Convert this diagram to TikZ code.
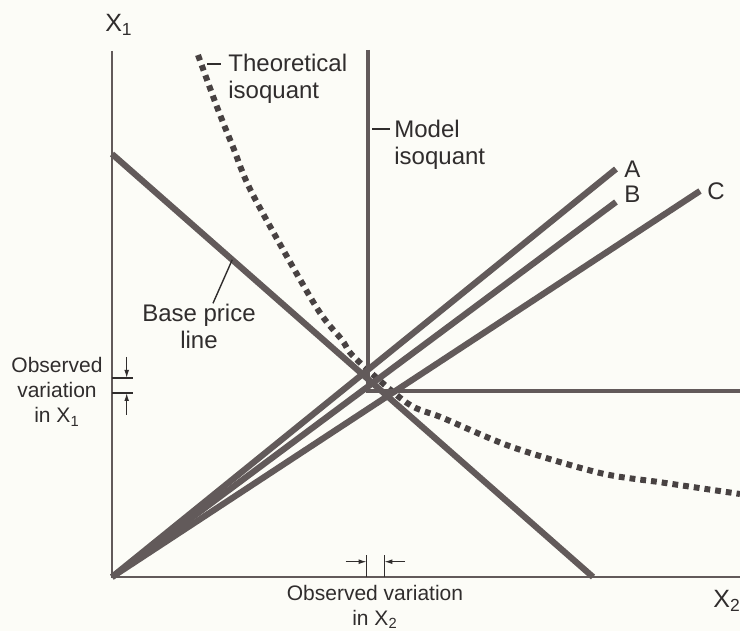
\documentclass[tikz,border=0pt]{standalone}
\usepackage{fontspec}
\setmainfont{Liberation Sans}
\usetikzlibrary{arrows.meta,positioning,calc}
\definecolor{inkgray}{RGB}{98,90,90}
\definecolor{dotgray}{RGB}{72,66,66}
\definecolor{txtgray}{RGB}{48,45,45}
\definecolor{paper}{RGB}{252,252,247}

\begin{document}
\begin{tikzpicture}[x=5pt,y=5pt]
  % Styles for lines and labels
  \tikzset{axisline/.style={line width=1.3pt, inkgray}}
  \tikzset{thickline/.style={line width=3.1pt, inkgray}}
  \tikzset{modelline/.style={line width=2pt, inkgray}}
  \tikzset{dotcurve/.style={line width=3pt, dotgray, dash pattern=on 2.9pt off 2.5pt}}
  \tikzset{leader/.style={line width=0.7pt, txtgray}}
  \tikzset{dimline/.style={line width=0.6pt, txtgray}}
  \tikzset{dimarrow/.style={dimline, -{Latex[length=4pt,width=2.4pt]}}}
  \tikzset{lbl/.style={txtgray, font=\fontsize{12}{13.5}\selectfont, inner sep=0pt}}
  \tikzset{smalllbl/.style={txtgray, font=\fontsize{10.5}{12.5}\selectfont, inner sep=0pt, align=center}}

  % paper
  \fill[paper] (-11.2,-5.4) rectangle (62.8,57.7);
  \useasboundingbox (-11.2,-5.4) rectangle (62.8,57.7);

  % Theoretical isoquant
  \draw[dotcurve] plot[smooth] coordinates {(8.6,52.2) (10.5,47.0) (12.1,43.0) (14.1,38.2) (20.3,27.2) (23.0,23.7) (24.3,21.9) (29.5,17.4) (33.1,15.9) (40,13.0) (48.8,10.4) (55,9.45) (62.8,8.3)};

  % Base price line
  \coordinate (bpTop) at (0,42.3);
  \coordinate (bpEnd) at (48.1,0);
  \draw[thickline] (bpTop) -- (bpEnd);

  % Model isoquant
  \coordinate (mTop) at (25.6,52.7);
  \coordinate (mCorner) at (25.6,18.6);
  \coordinate (mEnd) at (62.8,18.6);
  \draw[modelline] (mTop) -- (mCorner) -- (mEnd);

  % Axes
  \coordinate (O) at (0,0);
  \coordinate (yTop) at (0,52.6);
  \coordinate (xEnd) at (62.8,0);
  \draw[axisline] (yTop) -- (O) -- (xEnd);
  \node[lbl, font=\fontsize{12.5}{14}\selectfont] (xOneLbl) at (0.7,55.2) {X\textsubscript{1}};
  \node[lbl, font=\fontsize{12.5}{14}\selectfont, anchor=west] (xTwoLbl) at (60.1,-2.4) {X\textsubscript{2}};

  % Rays A, B, C
  \coordinate (aEnd) at (50.4,40.8);
  \coordinate (bEnd) at (50.4,37.5);
  \coordinate (cEnd) at (58.8,38.6);
  \draw[thickline] (O) -- (aEnd);
  \draw[thickline] (O) -- (bEnd);
  \draw[thickline] (O) -- (cEnd);
  \node[lbl, right=4pt of aEnd] (aLbl) {A};
  \node[lbl, right=4pt of bEnd, yshift=4pt] (bLbl) {B};
  \node[lbl, right=3.5pt of cEnd] (cLbl) {C};

  % Leaders
  \coordinate (theoTip) at (9.5,51.3);
  \node[lbl, anchor=west, align=left] (theoLbl) at (11.6,49.8) {Theoretical\\isoquant};
  \draw[leader, shorten >=3.5pt] (theoTip) -- (theoTip -| theoLbl.west);

  \coordinate (modelTip) at (26.0,44.8);
  \node[lbl, anchor=west, align=left] (modelLbl) at (28.2,43.25) {Model\\isoquant};
  \draw[leader, shorten >=2pt] (modelTip) -- (modelTip -| modelLbl.west);

  \coordinate (bpTip) at ($(bpTop)!0.25!(bpEnd)$);
  \node[lbl, align=center] (bpLbl) at (8.7,25.1) {Base price\\line};
  \draw[leader] (bpTip) -- ([xshift=7pt]bpLbl.north);

  % Observed variation in X1
  \node[smalllbl] (obsOneLbl) at (-5.5,18.5) {Observed\\variation\\in X\textsubscript{1}};
  \coordinate (tOneHi) at (0,19.9);
  \coordinate (tOneLo) at (0,18.4);
  \draw[dimline] (tOneHi) -- ++(2.1,0);
  \draw[dimline] (tOneLo) -- ++(2.1,0);
  \draw[dimarrow] (1.47,22.0) -- (1.47,19.9);
  \draw[dimarrow] (1.47,16.2) -- (1.47,18.4);

  % Observed variation in X2
  \node[smalllbl] (obsTwoLbl) at (26.3,-3.0) {Observed variation\\in X\textsubscript{2}};
  \coordinate (tTwoLe) at (25.47,0);
  \coordinate (tTwoRi) at (27.23,0);
  \draw[dimline] (tTwoLe) -- ++(0,2.2);
  \draw[dimline] (tTwoRi) -- ++(0,2.2);
  \draw[dimarrow] (23.37,1.53) -- (25.47,1.53);
  \draw[dimarrow] (29.3,1.53) -- (27.23,1.53);
\end{tikzpicture}
\end{document}
